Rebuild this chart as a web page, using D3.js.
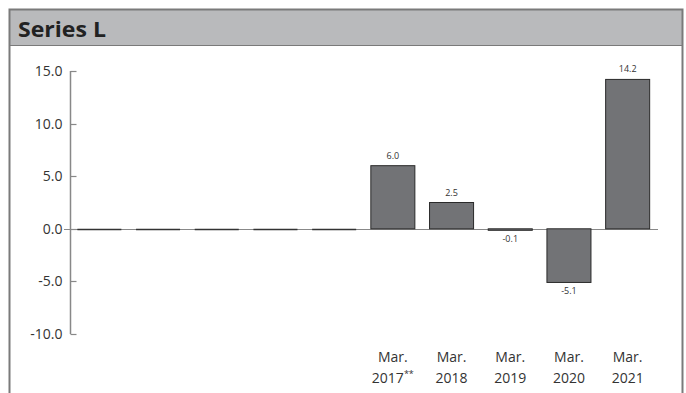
<!DOCTYPE html>
<html><head><meta charset="utf-8">
<script src="https://cdn.jsdelivr.net/npm/d3@7"></script>
<style>body{margin:0;background:#fff;}svg{display:block;}</style>
</head><body>
<script>
const categories = ["c1","c2","c3","c4","c5","Mar.|2017","Mar.|2018","Mar.|2019","Mar.|2020","Mar.|2021"];
const catLabels = ["","","","","","Mar.|2017**","Mar.|2018","Mar.|2019","Mar.|2020","Mar.|2021"];
const values = [0,0,0,0,0,6.0,2.5,-0.1,-5.1,14.2];
const valueLabels = ["","","","","","6.0","2.5","-0.1","-5.1","14.2"];
const yTicks = [-10,-5,0,5,10,15];
const title = "Series L";

const W=686,H=393;
const svg=d3.select("body").append("svg").attr("width",W).attr("height",H);
const font="'Open Sans', 'Noto Sans', sans-serif";

// frame
svg.append("rect").attr("x",9.5).attr("y",9.5).attr("width",673).attr("height",36).attr("fill","#b9babc").attr("stroke","none");
svg.append("path").attr("d","M9.5,400 V9.5 H682.5 V400").attr("fill","none").attr("stroke","#7a7a7a").attr("stroke-width",2);
svg.append("line").attr("x1",9).attr("x2",683).attr("y1",45.5).attr("y2",45.5).attr("stroke","#7a7a7a").attr("stroke-width",1);
svg.append("text").attr("x",18).attr("y",37).text(title).attr("font-family",font).attr("font-weight","bold").attr("font-size",21).attr("textLength",88).attr("lengthAdjust","spacingAndGlyphs").attr("fill","#222");

const x=d3.scaleBand().domain(categories).range([70,657]).paddingInner(0.25).paddingOuter(0.125);
const y=d3.scaleLinear().domain([-10,15]).range([334,71]);
const fmt=v=>d3.format(".1f")(v).replace("\u2212","-");

// y axis
const ax=svg.append("g").attr("transform","translate(70.5,0)");
ax.append("line").attr("y1",y(15)).attr("y2",y(-10)).attr("stroke","#888").attr("stroke-width",1.5);
yTicks.forEach(t=>{
  const yy=Math.round(y(t))+0.5;
  ax.append("line").attr("x1",0).attr("x2",6).attr("y1",yy).attr("y2",yy).attr("stroke","#888").attr("stroke-width",1.2);
  ax.append("text").attr("x",-8).attr("y",yy).attr("dy","0.35em").attr("text-anchor","end")
    .text(fmt(t)).attr("font-family",font).attr("font-size",14).attr("fill","#333");
});

// zero line
svg.append("line").attr("x1",64).attr("x2",658).attr("y1",Math.round(y(0))+0.5).attr("y2",Math.round(y(0))+0.5).attr("stroke","#888").attr("stroke-width",1);

// bars
categories.forEach((c,i)=>{
  const v=values[i];
  const x0=x(c), bw=x.bandwidth();
  if(v===0){
    svg.append("line").attr("x1",x0).attr("x2",x0+bw).attr("y1",Math.round(y(0))+0.5).attr("y2",Math.round(y(0))+0.5).attr("stroke","#333").attr("stroke-width",1.5);
  } else {
    const top=y(Math.max(0,v)), bot=y(Math.min(0,v));
    svg.append("rect").attr("x",x0).attr("y",top).attr("width",bw).attr("height",Math.max(1.5,bot-top))
      .attr("fill","#727376").attr("stroke","#2a2a2a").attr("stroke-width",1);
  }
  if(valueLabels[i]){
    const ly = v>=0 ? y(v)-7 : y(v)+12;
    svg.append("text").attr("x",x0+bw/2).attr("y",ly).attr("text-anchor","middle").text(valueLabels[i])
      .attr("font-family",font).attr("font-size",9).attr("fill","#333");
  }
  if(catLabels[i]){
    const parts=catLabels[i].split("|");
    const t=svg.append("text").attr("x",x0+bw/2).attr("text-anchor","middle").attr("font-family",font).attr("font-size",14).attr("fill","#333");
    t.append("tspan").attr("x",x0+bw/2).attr("y",362).text(parts[0]);
    const m=parts[1].match(/^(\d+)(\**)$/);
    t.append("tspan").attr("x",x0+bw/2).attr("y",383).text(m[1]);
    if(m[2]){
      t.append("tspan").attr("dy",-6).attr("font-size",9).text(m[2]);
    }
  }
});
</script>
</body></html>
